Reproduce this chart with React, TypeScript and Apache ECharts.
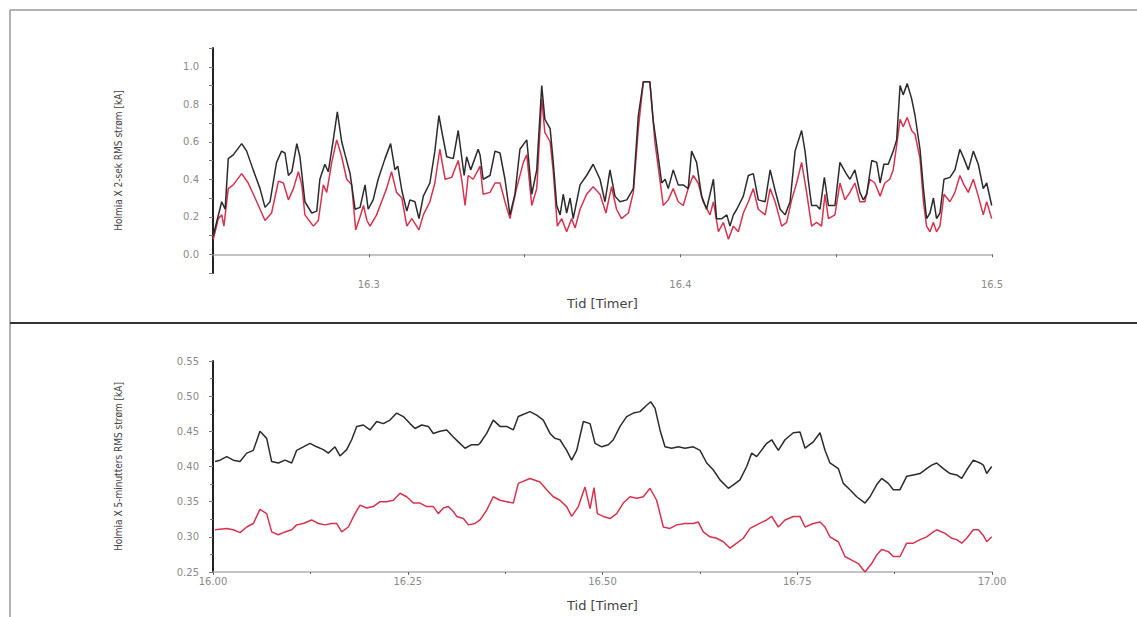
import React, { useEffect, useRef } from "react";
import * as echarts from "echarts";

// Top panel: 2-second RMS current [kA] vs time [hours]
const topBlack: [number, number][] = [
  [16.2501, 0.10], [16.2528, 0.28], [16.2539, 0.24], [16.2549, 0.51], [16.2565, 0.53], [16.2592, 0.59],
  [16.2608, 0.55], [16.2629, 0.45], [16.2651, 0.35], [16.2667, 0.25], [16.2683, 0.28], [16.2704, 0.49],
  [16.2720, 0.55], [16.2731, 0.54], [16.2742, 0.42], [16.2753, 0.44], [16.2769, 0.59], [16.2779, 0.52],
  [16.2795, 0.28], [16.2817, 0.22], [16.2833, 0.23], [16.2843, 0.40], [16.2859, 0.48], [16.2870, 0.44],
  [16.2886, 0.61], [16.2899, 0.76], [16.2913, 0.60], [16.2924, 0.53], [16.2940, 0.43], [16.2956, 0.24],
  [16.2972, 0.25], [16.2988, 0.37], [16.2998, 0.24], [16.3014, 0.29], [16.3030, 0.40], [16.3052, 0.51],
  [16.3070, 0.59], [16.3084, 0.45], [16.3093, 0.47], [16.3106, 0.34], [16.3122, 0.23], [16.3132, 0.29],
  [16.3148, 0.28], [16.3161, 0.19], [16.3175, 0.31], [16.3196, 0.38], [16.3212, 0.55], [16.3225, 0.74],
  [16.3236, 0.64], [16.3250, 0.52], [16.3271, 0.51], [16.3287, 0.66], [16.3298, 0.52], [16.3306, 0.42],
  [16.3314, 0.52], [16.3327, 0.45], [16.3351, 0.56], [16.3357, 0.53], [16.3367, 0.40], [16.3389, 0.42],
  [16.3405, 0.55], [16.3421, 0.54], [16.3437, 0.40], [16.3453, 0.21], [16.3469, 0.32], [16.3485, 0.56],
  [16.3507, 0.61], [16.3523, 0.32], [16.3539, 0.45], [16.3555, 0.90], [16.3565, 0.72], [16.3582, 0.67],
  [16.3592, 0.49], [16.3603, 0.26], [16.3614, 0.21], [16.3624, 0.32], [16.3635, 0.22], [16.3646, 0.30],
  [16.3656, 0.19], [16.3678, 0.37], [16.3699, 0.42], [16.3720, 0.48], [16.3742, 0.40], [16.3758, 0.28],
  [16.3774, 0.45], [16.3790, 0.31], [16.3806, 0.28], [16.3828, 0.29], [16.3849, 0.35], [16.3865, 0.74],
  [16.3881, 0.92], [16.3902, 0.92], [16.3913, 0.71], [16.3924, 0.58], [16.3940, 0.38], [16.3951, 0.40],
  [16.3961, 0.35], [16.3977, 0.45], [16.3993, 0.37], [16.4009, 0.37], [16.4025, 0.35], [16.4036, 0.55],
  [16.4052, 0.49], [16.4068, 0.31], [16.4084, 0.24], [16.4106, 0.40], [16.4116, 0.19], [16.4133, 0.19],
  [16.4149, 0.21], [16.4159, 0.15], [16.4170, 0.21], [16.4181, 0.24], [16.4202, 0.31], [16.4218, 0.42],
  [16.4234, 0.43], [16.4250, 0.29], [16.4272, 0.28], [16.4288, 0.45], [16.4304, 0.34], [16.4320, 0.24],
  [16.4336, 0.21], [16.4352, 0.28], [16.4368, 0.55], [16.4389, 0.66], [16.4400, 0.55], [16.4410, 0.40],
  [16.4421, 0.26], [16.4437, 0.26], [16.4448, 0.24], [16.4462, 0.41], [16.4475, 0.26], [16.4496, 0.26],
  [16.4512, 0.49], [16.4532, 0.43], [16.4544, 0.40], [16.4560, 0.45], [16.4576, 0.33], [16.4587, 0.29],
  [16.4598, 0.32], [16.4614, 0.50], [16.4630, 0.49], [16.4641, 0.38], [16.4653, 0.48], [16.4667, 0.48],
  [16.4683, 0.55], [16.4694, 0.61], [16.4705, 0.90], [16.4715, 0.85], [16.4728, 0.91], [16.4742, 0.83],
  [16.4753, 0.74], [16.4769, 0.56], [16.4780, 0.35], [16.4790, 0.19], [16.4801, 0.22], [16.4812, 0.30],
  [16.4822, 0.19], [16.4833, 0.22], [16.4846, 0.40], [16.4865, 0.41], [16.4881, 0.45], [16.4897, 0.56],
  [16.4910, 0.51], [16.4924, 0.45], [16.4940, 0.55], [16.4956, 0.48], [16.4972, 0.35], [16.4983, 0.38],
  [16.4999, 0.26],
];

const topRed: [number, number][] = [
  [16.2501, 0.08], [16.2517, 0.19], [16.2528, 0.21], [16.2535, 0.15], [16.2549, 0.35], [16.2565, 0.37],
  [16.2592, 0.43], [16.2613, 0.38], [16.2635, 0.30], [16.2651, 0.24], [16.2667, 0.18], [16.2688, 0.22],
  [16.2710, 0.39], [16.2726, 0.38], [16.2742, 0.29], [16.2758, 0.35], [16.2774, 0.44], [16.2785, 0.37],
  [16.2795, 0.21], [16.2822, 0.15], [16.2838, 0.18], [16.2854, 0.37], [16.2865, 0.33], [16.2881, 0.49],
  [16.2897, 0.61], [16.2913, 0.52], [16.2929, 0.40], [16.2945, 0.37], [16.2958, 0.13], [16.2972, 0.20],
  [16.2983, 0.26], [16.2994, 0.18], [16.3004, 0.15], [16.3025, 0.21], [16.3041, 0.28], [16.3057, 0.35],
  [16.3073, 0.44], [16.3089, 0.33], [16.3106, 0.30], [16.3122, 0.15], [16.3138, 0.19], [16.3161, 0.13],
  [16.3175, 0.21], [16.3196, 0.28], [16.3212, 0.38], [16.3228, 0.56], [16.3245, 0.40], [16.3266, 0.41],
  [16.3287, 0.50], [16.3298, 0.40], [16.3309, 0.26], [16.3319, 0.42], [16.3335, 0.40], [16.3351, 0.45],
  [16.3357, 0.47], [16.3367, 0.32], [16.3389, 0.33], [16.3405, 0.38], [16.3421, 0.38], [16.3437, 0.28],
  [16.3453, 0.19], [16.3474, 0.35], [16.3496, 0.49], [16.3507, 0.53], [16.3523, 0.26], [16.3539, 0.35],
  [16.3555, 0.83], [16.3565, 0.65], [16.3582, 0.60], [16.3592, 0.44], [16.3605, 0.15], [16.3619, 0.19],
  [16.3635, 0.12], [16.3651, 0.19], [16.3662, 0.14], [16.3678, 0.24], [16.3699, 0.32], [16.3720, 0.36],
  [16.3742, 0.32], [16.3761, 0.22], [16.3779, 0.36], [16.3795, 0.24], [16.3811, 0.19], [16.3833, 0.22],
  [16.3849, 0.33], [16.3865, 0.67], [16.3881, 0.92], [16.3902, 0.92], [16.3918, 0.60], [16.3934, 0.40],
  [16.3945, 0.26], [16.3961, 0.29], [16.3977, 0.35], [16.3993, 0.28], [16.4009, 0.26], [16.4025, 0.35],
  [16.4041, 0.42], [16.4057, 0.38], [16.4073, 0.28], [16.4095, 0.21], [16.4106, 0.28], [16.4122, 0.12],
  [16.4138, 0.17], [16.4154, 0.08], [16.4170, 0.15], [16.4186, 0.12], [16.4202, 0.22], [16.4218, 0.28],
  [16.4234, 0.35], [16.4250, 0.24], [16.4272, 0.21], [16.4288, 0.35], [16.4304, 0.28], [16.4325, 0.15],
  [16.4341, 0.17], [16.4357, 0.29], [16.4373, 0.38], [16.4389, 0.49], [16.4405, 0.33], [16.4421, 0.15],
  [16.4437, 0.17], [16.4453, 0.15], [16.4464, 0.32], [16.4475, 0.19], [16.4496, 0.21], [16.4512, 0.38],
  [16.4528, 0.29], [16.4544, 0.33], [16.4560, 0.38], [16.4576, 0.28], [16.4592, 0.28], [16.4608, 0.40],
  [16.4624, 0.38], [16.4641, 0.31], [16.4656, 0.38], [16.4672, 0.40], [16.4683, 0.45], [16.4694, 0.58],
  [16.4705, 0.72], [16.4715, 0.68], [16.4728, 0.73], [16.4742, 0.66], [16.4753, 0.64], [16.4769, 0.51],
  [16.4780, 0.28], [16.4790, 0.15], [16.4801, 0.12], [16.4812, 0.17], [16.4822, 0.12], [16.4833, 0.15],
  [16.4846, 0.32], [16.4865, 0.28], [16.4881, 0.33], [16.4897, 0.42], [16.4910, 0.37], [16.4924, 0.33],
  [16.4940, 0.40], [16.4956, 0.31], [16.4972, 0.21], [16.4983, 0.28], [16.4999, 0.19],
];

// Bottom panel: 5-minute RMS current [kA] vs time [hours]
const bottomBlack: [number, number][] = [
  [16.0026, 0.407], [16.0090, 0.409], [16.0176, 0.414], [16.0261, 0.409], [16.0347, 0.407], [16.0433, 0.419],
  [16.0518, 0.423], [16.0603, 0.450], [16.0689, 0.440], [16.0753, 0.407], [16.0839, 0.405], [16.0924, 0.409],
  [16.1010, 0.405], [16.1074, 0.423], [16.1160, 0.428], [16.1245, 0.433], [16.1331, 0.428], [16.1416, 0.424],
  [16.1480, 0.419], [16.1566, 0.428], [16.1630, 0.415], [16.1716, 0.424], [16.1780, 0.438], [16.1845, 0.457],
  [16.1930, 0.459], [16.2015, 0.452], [16.2101, 0.464], [16.2187, 0.461], [16.2272, 0.466], [16.2358, 0.476],
  [16.2443, 0.471], [16.2529, 0.461], [16.2593, 0.454], [16.2679, 0.459], [16.2764, 0.457], [16.2828, 0.447],
  [16.2914, 0.450], [16.3000, 0.452], [16.3085, 0.442], [16.3149, 0.435], [16.3235, 0.426], [16.3321, 0.431],
  [16.3406, 0.431], [16.3427, 0.433], [16.3513, 0.447], [16.3598, 0.466], [16.3684, 0.457], [16.3770, 0.457],
  [16.3855, 0.452], [16.3919, 0.471], [16.4069, 0.478], [16.4155, 0.473], [16.4240, 0.466], [16.4326, 0.447],
  [16.4390, 0.440], [16.4454, 0.438], [16.4540, 0.423], [16.4604, 0.409], [16.4669, 0.423], [16.4754, 0.464],
  [16.4840, 0.461], [16.4904, 0.433], [16.4990, 0.428], [16.5075, 0.431], [16.5139, 0.438], [16.5225, 0.457],
  [16.5310, 0.471], [16.5396, 0.476], [16.5481, 0.478], [16.5567, 0.487], [16.5618, 0.492], [16.5674, 0.483],
  [16.5738, 0.452], [16.5802, 0.428], [16.5888, 0.426], [16.5973, 0.428], [16.6059, 0.426], [16.6166, 0.428],
  [16.6252, 0.423], [16.6338, 0.405], [16.6423, 0.395], [16.6508, 0.381], [16.6615, 0.369], [16.6680, 0.374],
  [16.6765, 0.381], [16.6851, 0.400], [16.6915, 0.419], [16.6979, 0.414], [16.7108, 0.433], [16.7172, 0.438],
  [16.7257, 0.423], [16.7343, 0.438], [16.7450, 0.448], [16.7535, 0.449], [16.7600, 0.426], [16.7706, 0.435],
  [16.7792, 0.448], [16.7856, 0.423], [16.7920, 0.405], [16.8027, 0.397], [16.8091, 0.376], [16.8177, 0.367],
  [16.8263, 0.357], [16.8370, 0.348], [16.8434, 0.357], [16.8519, 0.374], [16.8583, 0.383], [16.8669, 0.376],
  [16.8733, 0.367], [16.8819, 0.367], [16.8905, 0.386], [16.8990, 0.388], [16.9076, 0.390], [16.9161, 0.397],
  [16.9226, 0.402], [16.9290, 0.405], [16.9375, 0.397], [16.9461, 0.390], [16.9547, 0.388], [16.9611, 0.383],
  [16.9675, 0.395], [16.9760, 0.409], [16.9846, 0.405], [16.9889, 0.402], [16.9932, 0.390], [16.9996, 0.400],
];

const bottomRed: [number, number][] = [
  [16.0026, 0.310], [16.0176, 0.312], [16.0261, 0.310], [16.0347, 0.306], [16.0433, 0.314], [16.0518, 0.319],
  [16.0603, 0.339], [16.0689, 0.333], [16.0753, 0.307], [16.0839, 0.303], [16.0924, 0.307], [16.1010, 0.310],
  [16.1074, 0.317], [16.1160, 0.319], [16.1266, 0.324], [16.1352, 0.319], [16.1438, 0.317], [16.1523, 0.319],
  [16.1587, 0.319], [16.1652, 0.307], [16.1737, 0.314], [16.1823, 0.333], [16.1887, 0.345], [16.1973, 0.341],
  [16.2058, 0.343], [16.2144, 0.350], [16.2229, 0.350], [16.2315, 0.352], [16.2401, 0.362], [16.2486, 0.357],
  [16.2572, 0.348], [16.2657, 0.348], [16.2743, 0.343], [16.2828, 0.343], [16.2892, 0.333], [16.2957, 0.341],
  [16.3021, 0.343], [16.3085, 0.336], [16.3128, 0.329], [16.3214, 0.326], [16.3278, 0.317], [16.3364, 0.319],
  [16.3427, 0.324], [16.3513, 0.338], [16.3598, 0.357], [16.3684, 0.352], [16.3770, 0.350], [16.3855, 0.348],
  [16.3919, 0.376], [16.4069, 0.383], [16.4198, 0.378], [16.4283, 0.367], [16.4369, 0.357], [16.4454, 0.352],
  [16.4540, 0.343], [16.4604, 0.329], [16.4690, 0.343], [16.4775, 0.371], [16.4840, 0.340], [16.4891, 0.370],
  [16.4934, 0.333], [16.5011, 0.329], [16.5096, 0.326], [16.5182, 0.333], [16.5267, 0.348], [16.5353, 0.357],
  [16.5439, 0.355], [16.5524, 0.357], [16.5610, 0.369], [16.5695, 0.352], [16.5781, 0.314], [16.5866, 0.312],
  [16.5952, 0.317], [16.6059, 0.319], [16.6166, 0.319], [16.6230, 0.321], [16.6294, 0.307], [16.6380, 0.300],
  [16.6466, 0.298], [16.6551, 0.293], [16.6637, 0.284], [16.6723, 0.291], [16.6808, 0.298], [16.6894, 0.312],
  [16.6979, 0.317], [16.7108, 0.324], [16.7172, 0.329], [16.7257, 0.314], [16.7343, 0.324], [16.7450, 0.329],
  [16.7535, 0.329], [16.7600, 0.314], [16.7706, 0.319], [16.7792, 0.321], [16.7856, 0.314], [16.7920, 0.300],
  [16.8027, 0.293], [16.8113, 0.272], [16.8199, 0.267], [16.8284, 0.262], [16.8370, 0.250], [16.8455, 0.262],
  [16.8519, 0.274], [16.8583, 0.282], [16.8669, 0.279], [16.8733, 0.272], [16.8819, 0.272], [16.8905, 0.291],
  [16.8990, 0.291], [16.9076, 0.296], [16.9161, 0.300], [16.9247, 0.307], [16.9290, 0.310], [16.9397, 0.305],
  [16.9482, 0.298], [16.9547, 0.296], [16.9611, 0.291], [16.9675, 0.298], [16.9760, 0.310], [16.9825, 0.310],
  [16.9889, 0.302], [16.9932, 0.293], [16.9996, 0.300],
];

const topYTitle = "Holmia X 2-sek RMS strøm [kA]";
const bottomYTitle = "Holmia X 5-minutters RMS strøm [kA]";
const xTitle = "Tid [Timer]";

const BLACK = "#2b2b2b";
const RED = "#d8324e";
const LABEL_COLOR = "#8a8a8a";

export default function App() {
  const ref = useRef<HTMLDivElement>(null);

  useEffect(() => {
    if (!ref.current) return;
    const chart = echarts.init(ref.current, undefined, { renderer: "svg" });

    const axisLabel = {
      color: LABEL_COLOR,
      fontSize: 10,
      fontFamily: "DejaVu Sans",
    };
    const nameStyle = {
      color: "#444",
      fontSize: 13,
      fontFamily: "DejaVu Sans",
    };
    const yNameStyle = {
      color: "#444",
      fontSize: 10,
      fontFamily: "DejaVu Sans Condensed",
    };

    chart.setOption({
      animation: false,
      backgroundColor: "#ffffff",
      grid: [
        { left: 213, top: 48, width: 779, height: 225 },
        { left: 213, top: 361, width: 779, height: 211 },
      ],
      xAxis: [
        {
          gridIndex: 0,
          type: "value",
          min: 16.25,
          max: 16.5,
          interval: 0.05,
          name: xTitle,
          nameLocation: "middle",
          nameGap: 24,
          nameTextStyle: nameStyle,
          axisLine: { lineStyle: { color: "#b0b0b0", width: 1.5 } },
          axisTick: { length: 3, lineStyle: { color: "#666" } },
          axisLabel: {
            ...axisLabel,
            margin: 6,
            formatter: (v: number) => {
              const r = Math.round(v * 10) / 10;
              return Math.abs(v - r) < 1e-6 && v > 16.26 ? r.toFixed(1) : "";
            },
          },
          splitLine: { show: false },
        },
        {
          gridIndex: 1,
          type: "value",
          min: 16,
          max: 17,
          interval: 0.25,
          name: xTitle,
          nameLocation: "middle",
          nameGap: 27,
          nameTextStyle: nameStyle,
          axisLine: { lineStyle: { color: "#b0b0b0", width: 1.5 } },
          axisTick: { length: 3, lineStyle: { color: "#666" } },
          minorTick: { show: true, splitNumber: 2, length: 2, lineStyle: { color: "#666" } },
          axisLabel: { ...axisLabel, margin: 4, formatter: (v: number) => v.toFixed(2) },
          splitLine: { show: false },
        },
      ],
      yAxis: [
        {
          gridIndex: 0,
          type: "value",
          min: -0.1,
          max: 1.1,
          interval: 0.1,
          name: topYTitle,
          nameLocation: "middle",
          nameGap: 90,
          nameTextStyle: yNameStyle,
          axisLine: { show: true, lineStyle: { color: "#222", width: 2 } },
          axisTick: { show: true, length: 4, lineStyle: { color: "#777" } },
          axisLabel: {
            ...axisLabel,
            margin: 14,
            formatter: (v: number) => {
              const k = Math.round(v * 10);
              return k >= 0 && k <= 10 && k % 2 === 0 ? (k / 10).toFixed(1) : "";
            },
          },
          splitLine: { show: false },
        },
        {
          gridIndex: 1,
          type: "value",
          min: 0.25,
          max: 0.55,
          interval: 0.05,
          name: bottomYTitle,
          nameLocation: "middle",
          nameGap: 90,
          nameTextStyle: yNameStyle,
          axisLine: { show: true, lineStyle: { color: "#222", width: 2 } },
          axisTick: { show: true, length: 4, lineStyle: { color: "#777" } },
          minorTick: { show: true, splitNumber: 2, length: 3, lineStyle: { color: "#777" } },
          axisLabel: { ...axisLabel, margin: 14, formatter: (v: number) => v.toFixed(2) },
          splitLine: { show: false },
        },
      ],
      series: [
        {
          type: "line",
          xAxisIndex: 0,
          yAxisIndex: 0,
          data: topBlack,
          showSymbol: false,
          lineStyle: { color: BLACK, width: 1.5 },
          z: 3,
        },
        {
          type: "line",
          xAxisIndex: 0,
          yAxisIndex: 0,
          data: topRed,
          showSymbol: false,
          lineStyle: { color: RED, width: 1.5 },
          z: 2,
        },
        {
          type: "line",
          xAxisIndex: 1,
          yAxisIndex: 1,
          data: bottomBlack,
          showSymbol: false,
          lineStyle: { color: BLACK, width: 1.5 },
        },
        {
          type: "line",
          xAxisIndex: 1,
          yAxisIndex: 1,
          data: bottomRed,
          showSymbol: false,
          lineStyle: { color: RED, width: 1.5 },
        },
      ],
      graphic: [
        { type: "line", shape: { x1: 10, y1: 10, x2: 1137, y2: 10 }, style: { stroke: "#666", lineWidth: 1 } },
        { type: "line", shape: { x1: 10, y1: 10, x2: 10, y2: 617 }, style: { stroke: "#666", lineWidth: 1 } },
        { type: "line", shape: { x1: 10, y1: 323, x2: 1137, y2: 323 }, style: { stroke: "#333", lineWidth: 2 } },
      ],
    });

    return () => chart.dispose();
  }, []);

  return (
    <div
      ref={ref}
      style={{ position: "fixed", left: 0, top: 0, width: 1137, height: 617, background: "#fff" }}
    />
  );
}
